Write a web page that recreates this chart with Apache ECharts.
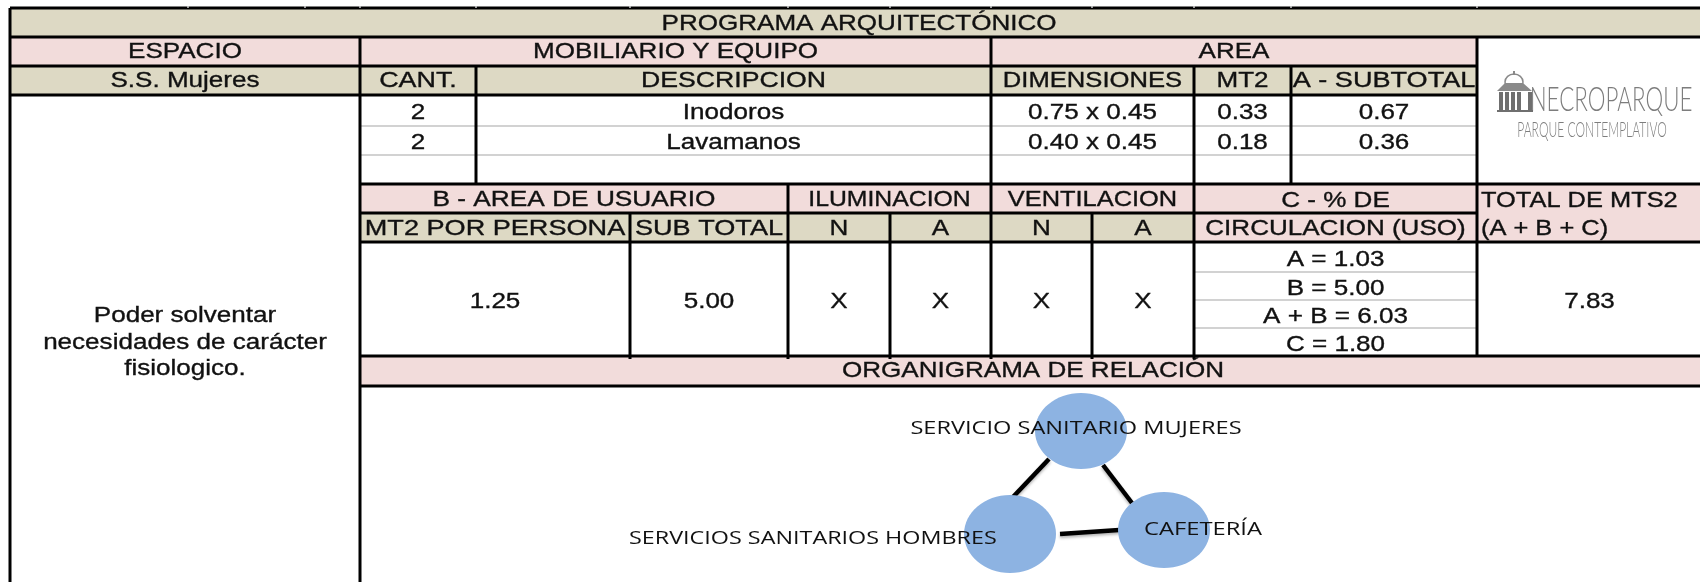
<!DOCTYPE html>
<html><head><meta charset="utf-8">
<style>html,body{margin:0;padding:0;background:#fff}#c{width:1700px;height:582px}</style>
<script src="https://cdn.jsdelivr.net/npm/echarts@6/dist/echarts.min.js"></script>
</head><body><div id="c"></div>
<script>
// ---- content ----
const title = 'PROGRAMA ARQUITECTÓNICO';
const sectionHeads = ['ESPACIO', 'MOBILIARIO Y EQUIPO', 'AREA'];
const spaceName = 'S.S. Mujeres';
const itemHeads = ['CANT.', 'DESCRIPCION', 'DIMENSIONES', 'MT2', 'A - SUBTOTAL'];
const quantities = ['2', '2'];
const descriptions = ['Inodoros', 'Lavamanos'];
const dimensions = ['0.75 x 0.45', '0.40 x 0.45'];
const areaMt2 = ['0.33', '0.18'];
const areaSubtotal = ['0.67', '0.36'];
const purposeLines = ['Poder solventar', 'necesidades de carácter', 'fisiologico.'];
const lowerHeads = ['B - AREA DE USUARIO', 'ILUMINACION', 'VENTILACION'];
const lowerSubHeads = ['MT2 POR PERSONA', 'SUB TOTAL', 'N', 'A', 'N', 'A'];
const circHead = ['C - % DE', 'CIRCULACION (USO)'];
const totalHead = ['TOTAL DE MTS2', '(A + B + C)'];
const lowerValues = ['1.25', '5.00', 'X', 'X', 'X', 'X'];
const circValues = ['A = 1.03', 'B = 5.00', 'A + B = 6.03', 'C = 1.80'];
const totalValue = '7.83';
const diagramTitle = 'ORGANIGRAMA DE RELACIÓN';
const nodeNames = ['SERVICIO SANITARIO MUJERES', 'SERVICIOS SANITARIOS HOMBRES', 'CAFETERÍA'];
const logoName = 'NECROPARQUE';
const logoTag = 'PARQUE CONTEMPLATIVO';

// ---- layout (page-unit axes) ----
const X = {l:10, a:360, b:476, c:630, d:788, e:890, f:991, g:1092, h:1194, i:1291, j:1477, r:1700};
const Y = {t:8, r1:37, r2:66, r3:95, l1:126, l2:155, r4:184, r5:213, r6:242, c1:272, c2:300, c3:328, r7:356, r8:386, b:582};
const KHAKI = '#ddd9c4', PINK = '#f2dcdb', INK = '#111', FONT = '"Liberation Sans", Arial, sans-serif', FS = 22, K = 21/22, SX = 1.24*K;

const fills = [
  [X.l,Y.t,X.r,Y.r1,KHAKI],[X.l,Y.r1,X.j,Y.r2,PINK],[X.l,Y.r2,X.j,Y.r3,KHAKI],
  [X.a,Y.r4,X.j,Y.r5,PINK],[X.j,Y.r4,X.r,Y.r6,PINK],[X.h,Y.r5,X.j,Y.r6,PINK],
  [X.a,Y.r5,X.h,Y.r6,KHAKI],[X.a,Y.r7,X.r,Y.r8,PINK]
];
const heavy = [
  [X.l,Y.t,X.r,Y.t],[X.l,Y.r1,X.r,Y.r1],[X.l,Y.r2,X.j,Y.r2],[X.l,Y.r3,X.j,Y.r3],
  [X.a,Y.r4,X.r,Y.r4],[X.a,Y.r5,X.j,Y.r5],[X.a,Y.r6,X.r,Y.r6],[X.a,Y.r7,X.r,Y.r7],[X.a,Y.r8,X.r,Y.r8],
  [X.l,Y.t,X.l,Y.b],[X.a,Y.r1,X.a,Y.b],[X.b,Y.r2,X.b,Y.r4],[X.c,Y.r5,X.c,Y.r7+3],[X.d,Y.r4,X.d,Y.r7+3],
  [X.e,Y.r5,X.e,Y.r7+3],[X.f,Y.r1,X.f,Y.r7+3],[X.g,Y.r5,X.g,Y.r7+3],[X.h,Y.r2,X.h,Y.r7+3],
  [X.i,Y.r2,X.i,Y.r4],[X.j,Y.r1,X.j,Y.r7]
];
const light = [
  [X.a,Y.l1,X.j,Y.l1],[X.a,Y.l2,X.j,Y.l2],[X.h,Y.c1,X.j,Y.c1],[X.h,Y.c2,X.j,Y.c2],[X.h,Y.c3,X.j,Y.c3]
];
const topNicks = [188,305,X.a,X.b,X.c,X.d,X.e,X.f,X.g,X.h,X.i,X.j];

const mid = (p,q)=>(p+q)/2;
const texts = [];
const put = (s,x,y,sx)=>texts.push({s,x,y,sx:sx?sx*K:SX});
put(title, 859, mid(Y.t,Y.r1)+1);
put(sectionHeads[0], mid(X.l,X.a), mid(Y.r1,Y.r2)); put(sectionHeads[1], mid(X.a,X.f), mid(Y.r1,Y.r2)); put(sectionHeads[2], mid(X.f,X.j), mid(Y.r1,Y.r2));
put(spaceName, mid(X.l,X.a), mid(Y.r2,Y.r3));
[[X.a,X.b],[X.b,X.f],[X.f,X.h],[X.h,X.i],[X.i,X.j]].forEach((c,i)=>put(itemHeads[i],mid(c[0],c[1]),mid(Y.r2,Y.r3),[1.28,1.27,1.22,1.24,1.29][i]));
[[Y.r3,Y.l1],[Y.l1,Y.l2]].forEach((r,k)=>{
  const y = mid(r[0],r[1])+2.5;
  put(quantities[k],mid(X.a,X.b),y); put(descriptions[k],mid(X.b,X.f),y); put(dimensions[k],mid(X.f,X.h),y);
  put(areaMt2[k],mid(X.h,X.i),y); put(areaSubtotal[k],mid(X.i,X.j),y);
});
[315.5,342.5,368.5].forEach((y,i)=>put(purposeLines[i],mid(X.l,X.a),y));
[[X.a,X.d],[X.d,X.f],[X.f,X.h]].forEach((c,i)=>put(lowerHeads[i],mid(c[0],c[1]),mid(Y.r4,Y.r5)+1,[1.25,1.18,1.21][i]));
[[X.a,X.c],[X.c,X.d],[X.d,X.e],[X.e,X.f],[X.f,X.g],[X.g,X.h]].forEach((c,i)=>{
  put(lowerSubHeads[i],mid(c[0],c[1]),mid(Y.r5,Y.r6)+1,i<2?1.29:1.24);
  put(lowerValues[i],mid(c[0],c[1]),mid(Y.r6,Y.r7)+3);
});
put(circHead[0],mid(X.h,X.j),mid(Y.r4,Y.r5)+2); put(circHead[1],mid(X.h,X.j),mid(Y.r5,Y.r6)+1);
[[Y.r6,Y.c1],[Y.c1,Y.c2],[Y.c2,Y.c3],[Y.c3,Y.r7]].forEach((r,i)=>put(circValues[i],mid(X.h,X.j),mid(r[0],r[1])+2.5));
put(totalValue,mid(X.j,X.r)+1,mid(Y.r6,Y.r7)+3);
put(diagramTitle,1033,mid(Y.r7,Y.r8));

const leftTexts = [[totalHead[0],1481,mid(Y.r4,Y.r5)+2],[totalHead[1],1481,mid(Y.r5,Y.r6)+1]];

const circles = [[1081,431,46,38],[1010,534,46,39],[1164,530,46,38]];
const links = [[1049,459,1013,497],[1103,465,1132,503],[1060,534,1119,530]];
const nodeLabels = [[nodeNames[0],1076,429,'center',1.31],[nodeNames[1],629,539,'left',1.297],[nodeNames[2],1203,530,'center',1.32]];

function renderAll(params, api){
  const P = (x,y)=>api.coord([x,y]);
  const ch = [];
  fills.forEach(f=>{const a=P(f[0],f[1]),b=P(f[2],f[3]);
    ch.push({type:'rect',shape:{x:a[0],y:a[1],width:b[0]-a[0],height:b[1]-a[1]},style:{fill:f[4]}});});
  light.forEach(l=>{const a=P(l[0],l[1]),b=P(l[2],l[3]);
    ch.push({type:'line',shape:{x1:a[0],y1:a[1],x2:b[0],y2:b[1]},style:{stroke:'#d2d2d2',lineWidth:2}});});
  heavy.forEach(l=>{const a=P(l[0],l[1]),b=P(l[2],l[3]);
    ch.push({type:'line',shape:{x1:a[0],y1:a[1],x2:b[0],y2:b[1]},style:{stroke:'#000',lineWidth:3}});});
  topNicks.forEach(x=>{const a=P(x,Y.t-2),b=P(x,Y.t);
    ch.push({type:'line',shape:{x1:a[0],y1:a[1],x2:b[0],y2:b[1]},style:{stroke:'#cfcfcf',lineWidth:1.5}});});
  texts.forEach(t=>{const a=P(t.x,t.y);
    ch.push({type:'text',x:a[0],y:a[1],scaleX:t.sx,style:{text:t.s,x:0,y:0,align:'center',verticalAlign:'middle',font:FS+'px '+FONT,fill:INK,stroke:INK,lineWidth:.35}});});
  leftTexts.forEach(t=>{const a=P(t[1],t[2]);
    ch.push({type:'text',x:a[0],y:a[1],scaleX:1.21*K,style:{text:t[0],x:0,y:0,align:'left',verticalAlign:'middle',font:FS+'px '+FONT,fill:INK,stroke:INK,lineWidth:.35}});});
  links.forEach(l=>{const a=P(l[0],l[1]),b=P(l[2],l[3]);
    ch.push({type:'line',shape:{x1:a[0],y1:a[1],x2:b[0],y2:b[1]},style:{stroke:'#000',lineWidth:4.5,shadowColor:'rgba(0,0,0,.3)',shadowBlur:3,shadowOffsetY:2}});});
  circles.forEach(c=>{const a=P(c[0],c[1]);
    ch.push({type:'ellipse',shape:{cx:a[0],cy:a[1],rx:c[2],ry:c[3]},style:{fill:'#8db3e2'}});});
  nodeLabels.forEach(n=>{const a=P(n[1],n[2]);
    ch.push({type:'text',x:a[0],y:a[1],scaleX:n[4],style:{text:n[0],x:0,y:0,align:n[3],verticalAlign:'middle',font:'18px "Open Sans", sans-serif',fill:'#111'}});});
  // logo
  const g='#7d7d7d';
  const nm=P(1611,100), ty=P(1592,130);
  ch.push({type:'text',x:nm[0],y:nm[1],scaleX:.86,scaleY:1.32,style:{text:logoName,x:0,y:0,align:'center',verticalAlign:'middle',font:'300 26px Lato, sans-serif',fill:g}});
  ch.push({type:'text',x:ty[0],y:ty[1],scaleX:.71,scaleY:1.3,style:{text:logoTag,x:0,y:0,align:'center',verticalAlign:'middle',font:'300 17px Lato, sans-serif',fill:g}});
  ch.push({type:'ellipse',shape:{cx:P(1514,0)[0],cy:P(0,82)[1],rx:9,ry:8},style:{fill:'none',stroke:'#8a8a8a',lineWidth:1.5}});
  ch.push({type:'polygon',shape:{points:[P(1497,91),P(1505,83),P(1523,83),P(1532,91)]},style:{fill:'#8a8a8a'}});
  ch.push({type:'rect',shape:{x:P(1513,0)[0],y:P(0,71)[1],width:2,height:4},style:{fill:'#8a8a8a'}});
  [1499,1505,1511,1517,1528].forEach(x=>{const a=P(x,92);ch.push({type:'rect',shape:{x:a[0],y:a[1],width:4,height:18},style:{fill:'#6f6f6f'}});});
  const base=P(1497,110);
  ch.push({type:'rect',shape:{x:base[0],y:base[1],width:36,height:2},style:{fill:'#6f6f6f'}});
  return {type:'group',children:ch};
}

const chart = echarts.init(document.getElementById('c'),null,{renderer:'canvas'});
chart.setOption({
  animation:false,
  grid:{left:0,right:0,top:0,bottom:0},
  xAxis:{type:'value',min:0,max:1700,show:false},
  yAxis:{type:'value',min:0,max:582,inverse:true,show:false},
  series:[{type:'custom',silent:true,coordinateSystem:'cartesian2d',data:[[0,0]],clip:true,renderItem:renderAll}]
});
</script></body></html>
